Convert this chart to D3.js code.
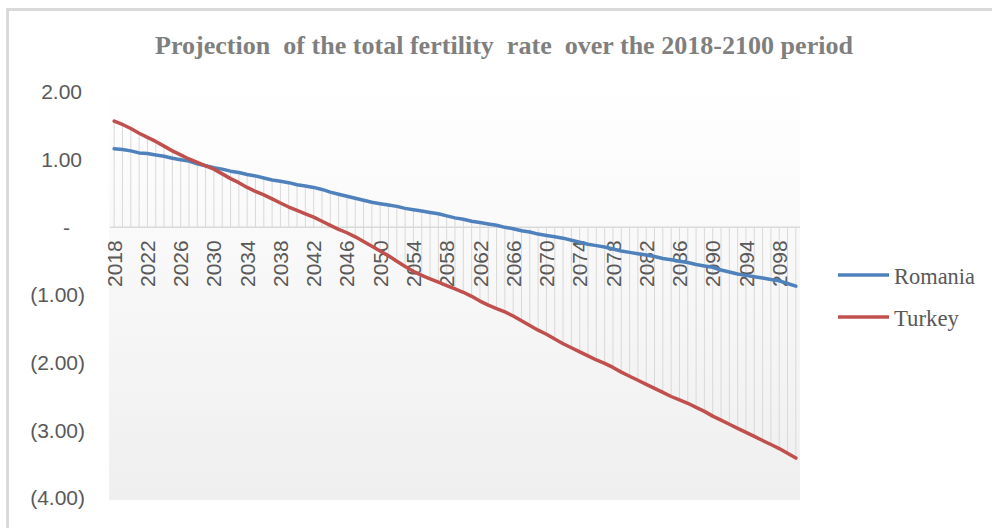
<!DOCTYPE html>
<html>
<head>
<meta charset="utf-8">
<script src="https://cdn.jsdelivr.net/npm/d3@7/dist/d3.min.js"></script>
<style>
  html, body { margin: 0; padding: 0; background: #ffffff; }
  svg { display: block; }
</style>
</head>
<body>
<svg id="chart" width="992" height="528"></svg>
<script>
const years = d3.range(2018, 2101);
const romania = [
  1.16, 1.15, 1.13, 1.10, 1.09, 1.07, 1.05, 1.02, 1.00, 0.98,
  0.94, 0.91, 0.88, 0.86, 0.83, 0.81, 0.78, 0.76, 0.73, 0.70,
  0.68, 0.66, 0.63, 0.61, 0.59, 0.56, 0.52, 0.49, 0.46, 0.43,
  0.40, 0.37, 0.35, 0.33, 0.31, 0.28, 0.26, 0.24, 0.22, 0.20,
  0.17, 0.14, 0.12, 0.09, 0.07, 0.05, 0.03, 0.00, -0.02, -0.05,
  -0.07, -0.10, -0.12, -0.14, -0.16, -0.19, -0.22, -0.25, -0.27, -0.29,
  -0.32, -0.35, -0.37, -0.39, -0.41, -0.43, -0.46, -0.48, -0.50, -0.52,
  -0.55, -0.57, -0.59, -0.63, -0.66, -0.69, -0.71, -0.73, -0.75, -0.77,
  -0.79, -0.83, -0.87
];
const turkey = [
  1.57, 1.52, 1.46, 1.39, 1.33, 1.27, 1.20, 1.13, 1.07, 1.01,
  0.96, 0.91, 0.86, 0.79, 0.72, 0.66, 0.59, 0.53, 0.48, 0.42,
  0.36, 0.30, 0.25, 0.20, 0.15, 0.09, 0.03, -0.03, -0.08, -0.14,
  -0.21, -0.28, -0.35, -0.42, -0.50, -0.58, -0.65, -0.71, -0.76, -0.81,
  -0.86, -0.91, -0.96, -1.02, -1.09, -1.15, -1.20, -1.25, -1.31, -1.38,
  -1.45, -1.52, -1.58, -1.65, -1.72, -1.78, -1.84, -1.90, -1.96, -2.01,
  -2.07, -2.14, -2.20, -2.26, -2.32, -2.38, -2.44, -2.50, -2.55, -2.60,
  -2.66, -2.72, -2.79, -2.85, -2.91, -2.97, -3.03, -3.09, -3.15, -3.21,
  -3.27, -3.34, -3.41
];
const yTicks = [2, 1, 0, -1, -2, -3, -4];
const xTickYears = d3.range(2018, 2101, 4);
const seriesNames = ["Romania", "Turkey"];
const seriesColors = ["#4F81BD", "#C0504D"];
const titleText = "Projection  of the total fertility  rate  over the 2018-2100 period";

const svg = d3.select("#chart");

// chart border (partially visible)
svg.append("path")
  .attr("d", "M7.5,1000 L7.5,9.5 L1000,9.5")
  .attr("fill", "none").attr("stroke", "#d9d9d9").attr("stroke-width", 3);

const pLeft = 110, pRight = 800, pTop = 92, pBottom = 498;
const x = d3.scaleBand().domain(years).range([pLeft, pRight]);
const y = d3.scaleLinear().domain([-4, 2]).range([pBottom, pTop]);
const cx = d => x(d) + x.bandwidth() / 2;

// plot area gradient
const defs = svg.append("defs");
const grad = defs.append("linearGradient").attr("id", "pg")
  .attr("x1", 0).attr("y1", 0).attr("x2", 0).attr("y2", 1);
grad.append("stop").attr("offset", "0%").attr("stop-color", "#ffffff");
grad.append("stop").attr("offset", "100%").attr("stop-color", "#efefef");
svg.append("rect").attr("x", pLeft - 1).attr("y", y(2) - 10)
  .attr("width", pRight - pLeft + 1).attr("height", pBottom + 2 - (y(2) - 10))
  .attr("fill", "url(#pg)");

// title
svg.append("text")
  .attr("x", 155).attr("y", 54)
  .attr("textLength", 698).attr("lengthAdjust", "spacingAndGlyphs")
  .attr("font-family", "'Liberation Serif', 'Times New Roman', serif")
  .attr("font-weight", "bold").attr("font-size", 26)
  .attr("fill", "#7f7f7f")
  .style("white-space", "pre")
  .text(titleText);

// drop lines
svg.append("g").selectAll("line").data(years).join("line")
  .attr("x1", d => cx(d)).attr("x2", d => cx(d))
  .attr("y1", (d, i) => y(Math.max(0, romania[i], turkey[i])))
  .attr("y2", (d, i) => y(Math.min(0, romania[i], turkey[i])))
  .attr("stroke", "#d9d9d9").attr("stroke-width", 1);

// zero axis line
svg.append("line").attr("x1", pLeft).attr("x2", pRight)
  .attr("y1", y(0)).attr("y2", y(0))
  .attr("stroke", "#d9d9d9").attr("stroke-width", 1.5);

// y axis
const fmt = v => v === 0 ? "-" : v > 0 ? d3.format(".2f")(v) : "(" + d3.format(".2f")(-v) + ")";
const yAxis = svg.append("g").attr("transform", `translate(85,0)`)
  .call(d3.axisLeft(y).tickValues(yTicks).tickFormat(fmt).tickSize(0).tickPadding(0));
yAxis.select(".domain").remove();
yAxis.selectAll("text")
  .attr("font-family", "'Liberation Sans', Arial, sans-serif")
  .attr("font-size", 21).attr("fill", "#595959")
  .attr("dx", d => d === 0 ? -15 : d > 0 ? -3 : 0);

// x axis labels
const xAxis = svg.append("g").attr("transform", `translate(0,${y(0)})`)
  .call(d3.axisBottom(x).tickValues(xTickYears).tickSize(0).tickPadding(0));
xAxis.select(".domain").remove();
xAxis.selectAll("text")
  .attr("font-family", "'Liberation Sans', Arial, sans-serif")
  .attr("font-size", 21).attr("fill", "#595959")
  .attr("text-anchor", "end")
  .attr("transform", "translate(0,13) rotate(-90)")
  .attr("x", 0).attr("y", 0).attr("dy", "0.36em");

// lines
const line = d3.line().x((d, i) => cx(years[i])).y(d => y(d)).curve(d3.curveLinear);
[romania, turkey].forEach((s, k) => {
  svg.append("path").datum(s)
    .attr("fill", "none").attr("stroke", seriesColors[k])
    .attr("stroke-width", 3.5).attr("stroke-linejoin", "round").attr("stroke-linecap", "round")
    .attr("d", line);
});

// legend
const legY = [275, 317];
seriesNames.forEach((n, k) => {
  svg.append("line").attr("x1", 838).attr("x2", 889)
    .attr("y1", legY[k]).attr("y2", legY[k])
    .attr("stroke", seriesColors[k]).attr("stroke-width", 3.5);
  svg.append("text").attr("x", 894).attr("y", legY[k] + 9)
    .attr("font-family", "'Liberation Serif', 'Times New Roman', serif")
    .attr("font-size", 24).attr("fill", "#595959")
    .attr("textLength", k === 0 ? 81 : 65).attr("lengthAdjust", "spacingAndGlyphs")
    .text(n);
});
</script>
</body>
</html>
